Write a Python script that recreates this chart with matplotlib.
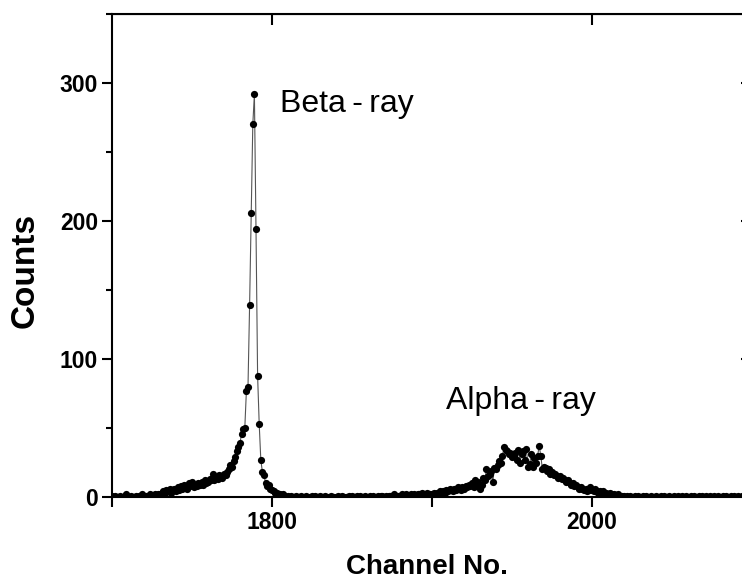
import numpy as np
import matplotlib
matplotlib.use('Agg')
import matplotlib.pyplot as plt
from matplotlib.ticker import MultipleLocator

matplotlib.rcParams['font.family'] = 'Liberation Sans'

# channel axis of the spectrum, one point per channel
channels = np.arange(1700, 2101)

# counts, in blocks of channels
counts_1700 = [1, 0, 1, 0, 0, 1, 0, 0, 1, 2, 0, 0, 1, 0, 0, 1, 0, 1, 0, 2,
               0, 1, 0, 1, 2, 1, 0, 2, 1, 2]
counts_beta = [2, 3, 4, 3, 5, 4, 6, 3, 5, 6,
               4, 7, 5, 8, 6, 9, 7, 6, 10, 8,
               11, 7, 9, 8, 10, 9, 11, 9, 12, 10,
               11, 13, 12, 17, 12, 14, 13, 16, 15, 14,
               17, 16, 18, 20, 23, 22, 26, 29, 33, 36,
               39, 46, 49, 50, 77, 80, 139, 206, 270, 292,
               194, 88, 53, 27, 18, 16, 10, 8, 9, 6,
               5, 4, 3, 3, 2, 2, 1, 2, 1, 0]
counts_mid = [1, 0, 1, 0, 0, 1, 0, 0, 1, 0,
              0, 1, 0, 0, 0, 1, 0, 1, 0, 0,
              1, 0, 0, 1, 0, 0, 0, 1, 0, 0,
              0, 1, 0, 0, 1, 0, 0, 0, 1, 0,
              1, 0, 0, 1, 0, 1, 0, 0, 1, 0,
              0, 1, 0, 1, 0, 0, 1, 0, 1, 1,
              0, 1, 0, 1, 1, 0, 2, 1, 0, 1,
              1, 2, 0, 1, 2, 1, 1, 2, 1, 2,
              1, 2, 2, 1, 3, 2, 1, 3, 2, 2]
counts_alpha = [2, 3, 2, 3, 2, 4, 3, 4, 3, 5,
                4, 6, 5, 4, 6, 5, 7, 6, 5, 7,
                6, 8, 7, 9, 8, 10, 7, 12, 9, 11,
                6, 9, 14, 12, 20, 15, 17, 19, 11, 21,
                20, 23, 26, 25, 30, 36, 34, 33, 31, 32,
                29, 30, 32, 27, 34, 25, 31, 33, 27, 35,
                22, 24, 31, 22, 28, 25, 30, 37, 30, 20,
                22, 21, 19, 20, 17, 18, 16, 17, 15, 14,
                15, 13, 14, 12, 11, 12, 10, 9, 10, 8,
                9, 7, 6, 7, 6, 5, 6, 4, 5, 7,
                5, 4, 6, 4, 3, 4, 3, 4, 2, 3,
                2, 3, 2, 1, 2, 1, 2, 1, 0, 1]
counts_tail = [1, 0, 1, 0, 1, 0, 0, 1, 0, 1,
               0, 0, 1, 0, 1, 0, 0, 1, 0, 0,
               1, 0, 0, 1, 0, 1, 0, 0, 1, 0,
               0, 1, 0, 0, 1, 0, 1, 0, 0, 1,
               0, 0, 1, 0, 1, 0, 0, 1, 0, 1,
               0, 1, 0, 0, 1, 0, 1, 0, 0, 1,
               0, 0, 1, 0, 1, 0, 0, 1, 0, 1,
               0, 1, 0, 0, 1, 0, 1, 0, 0, 1,
               0]

counts = np.array(counts_1700 + counts_beta + counts_mid + counts_alpha + counts_tail)

fig = plt.figure(figsize=(7.42, 5.85), dpi=100)
ax = fig.add_axes([112/742, 88/585, 640/742, 483/585])

ax.plot(channels, counts, "-", color="#555555", linewidth=0.8, zorder=2)
ax.plot(channels, counts, "o", color="black", markersize=5.2,
        markeredgecolor="none", zorder=3)

ax.set_xlim(1700, 2100)
ax.set_ylim(0, 350)

ax.xaxis.set_major_locator(MultipleLocator(200))
ax.xaxis.set_minor_locator(MultipleLocator(100))
ax.yaxis.set_major_locator(MultipleLocator(100))
ax.yaxis.set_minor_locator(MultipleLocator(50))
ax.xaxis.set_major_formatter(matplotlib.ticker.FormatStrFormatter('%d'))

for s in ax.spines.values():
    s.set_linewidth(1.5)

ax.tick_params(which='major', direction='out', length=7, width=1.5,
               labelsize=16.5, pad=3)
ax.tick_params(axis='x', which='minor', direction='out', length=7, width=1.5)
ax.tick_params(axis='y', which='minor', direction='out', length=4, width=1.5)
for lab in ax.get_xticklabels() + ax.get_yticklabels():
    lab.set_fontweight('bold')

top = ax.secondary_xaxis('top')
top.set_xticks([1800, 2000])
top.tick_params(direction='in', length=8, width=1.5, labeltop=False)
right = ax.secondary_yaxis('right')
right.set_yticks([100, 200, 300])
right.tick_params(direction='in', length=8, width=1.5, labelright=False)

fig.text(427/742, 1 - 567/585, "Channel No.", fontsize=20, fontweight='bold',
         ha='center', va='center')
fig.text(25/742, 1 - 270/585, "Counts", fontsize=24, fontweight='bold',
         ha='center', va='center', rotation=90)

ax.text(1805, 279, "Beta\u2009-\u2009ray", fontsize=23, ha='left', va='baseline')
ax.text(1909, 64, "Alpha\u2009-\u2009ray", fontsize=23, ha='left', va='baseline')

fig.savefig("out.png", dpi=100)
